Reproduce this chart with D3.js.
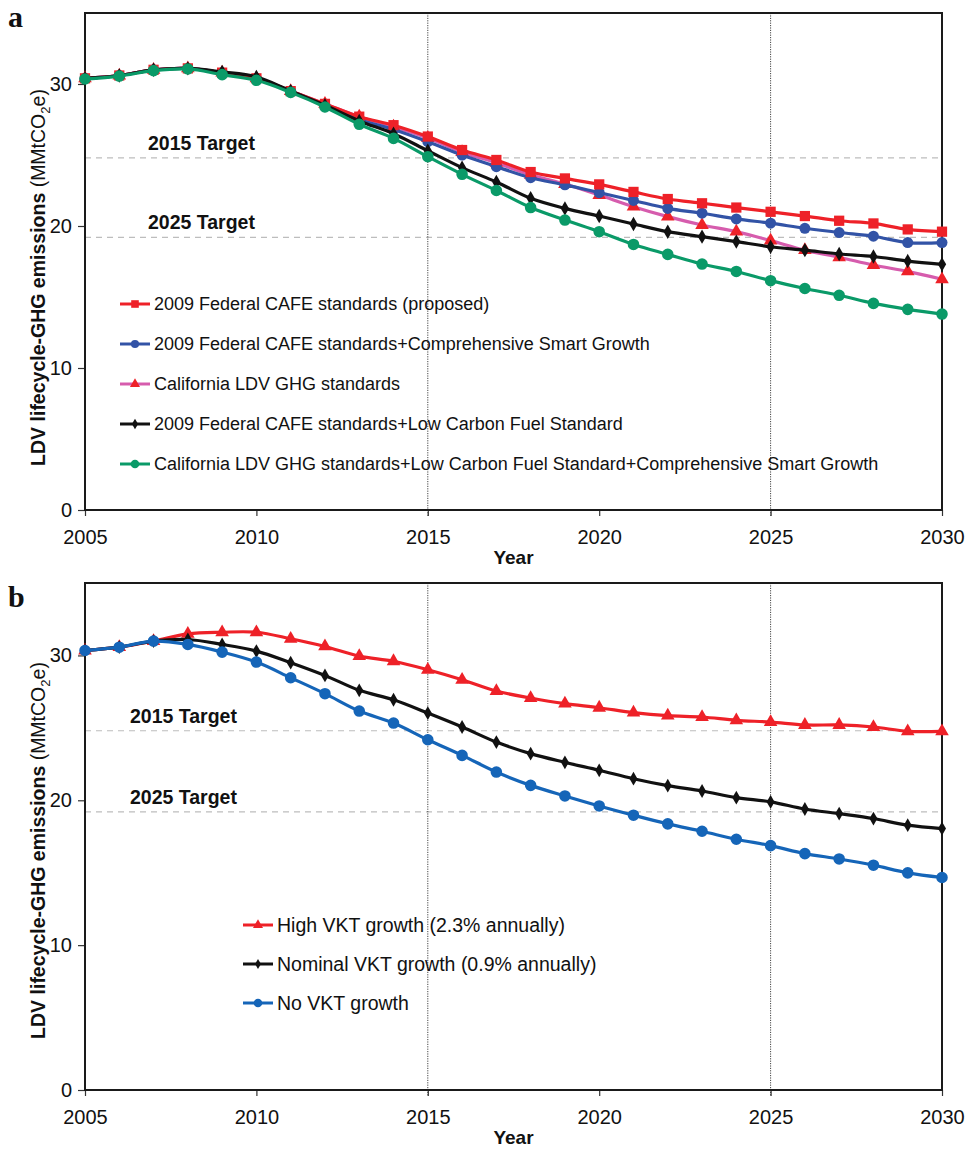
<!DOCTYPE html>
<html><head><meta charset="utf-8">
<script src="https://cdn.jsdelivr.net/npm/d3@7"></script>
<style>
html,body{margin:0;padding:0;background:#fff;}
svg{display:block;font-family:Arial,"Liberation Sans",sans-serif;}
</style></head>
<body><svg id="chart" width="965" height="1151"></svg>
<script>
const years = d3.range(2005, 2031);
const xTicks = [2005, 2010, 2015, 2020, 2025, 2030];
const yTicks = [0, 10, 20, 30];
const targetYears = [2015, 2025];
const targetLabels = ["2015 Target", "2025 Target"];
const targetValuesA = [24.8, 19.2];
const targetValuesB = [24.8, 19.2];

// Panel a series
const aNames = [
  "2009 Federal CAFE standards (proposed)",
  "2009 Federal CAFE standards+Comprehensive Smart Growth",
  "California LDV GHG standards",
  "2009 Federal CAFE standards+Low Carbon Fuel Standard",
  "California LDV GHG standards+Low Carbon Fuel Standard+Comprehensive Smart Growth"
];
const aRed   = [30.4,30.6,31.0,31.1,30.8,30.4,29.5,28.6,27.7,27.1,26.3,25.35,24.65,23.8,23.35,22.93,22.4,21.9,21.6,21.3,21.0,20.7,20.37,20.18,19.76,19.6];
const aBlue  = [30.4,30.6,31.0,31.1,30.8,30.4,29.5,28.5,27.5,26.8,25.94,25.0,24.18,23.4,22.9,22.35,21.8,21.24,20.9,20.5,20.2,19.84,19.54,19.28,18.83,18.83];
const aPink  = [30.4,30.6,31.0,31.1,30.8,30.4,29.5,28.6,27.7,27.0,26.2,25.2,24.45,23.6,22.96,22.18,21.36,20.66,20.07,19.6,18.97,18.3,17.8,17.25,16.8,16.25];
const aBlack = [30.4,30.6,31.0,31.1,30.85,30.5,29.5,28.5,27.4,26.5,25.3,24.11,23.1,21.95,21.24,20.7,20.14,19.6,19.25,18.9,18.54,18.3,18.03,17.85,17.53,17.3];
const aGreen = [30.35,30.56,30.94,31.06,30.66,30.26,29.41,28.38,27.16,26.17,24.88,23.64,22.5,21.3,20.42,19.6,18.7,18.0,17.32,16.8,16.15,15.6,15.12,14.55,14.13,13.8];

// Panel b series
const bNames = [
  "High VKT growth (2.3% annually)",
  "Nominal VKT growth (0.9% annually)",
  "No VKT growth"
];
const bRed   = [30.34,30.57,30.99,31.49,31.6,31.6,31.15,30.62,29.95,29.6,29.01,28.32,27.54,27.06,26.67,26.39,26.05,25.84,25.75,25.52,25.4,25.2,25.2,25.06,24.76,24.76];
const bBlack = [30.34,30.57,30.99,31.1,30.76,30.3,29.5,28.62,27.59,26.94,26.02,25.06,24.02,23.22,22.62,22.07,21.49,21.01,20.64,20.18,19.89,19.4,19.08,18.74,18.28,18.05];
const bBlue  = [30.34,30.57,30.99,30.76,30.23,29.54,28.46,27.36,26.16,25.33,24.18,23.1,21.95,21.03,20.3,19.61,18.97,18.37,17.86,17.31,16.87,16.32,15.95,15.52,14.99,14.67];

const svg = d3.select("#chart");

function panel(cfg){
  const g = svg.append("g");
  const x = d3.scaleLinear().domain([2005,2030]).range([85,942]);
  const y = d3.scaleLinear().domain([0,35]).range([cfg.bottom, cfg.top]);
  const plotTop = cfg.top, plotBottom = cfg.bottom;

  // target dashed lines
  cfg.targets.forEach((v,i)=>{
    g.append("line").attr("x1",x(2005)).attr("x2",x(2030)).attr("y1",y(v)).attr("y2",y(v))
      .attr("stroke","#bdbdbd").attr("stroke-width",1.2).attr("stroke-dasharray","6,5");
    g.append("text").attr("x",cfg.targetX).attr("y",y(v)-8).text(targetLabels[i])
      .attr("font-weight","bold").attr("font-size",19.5).attr("fill","#111");
  });
  // vertical dotted lines
  targetYears.forEach(t=>{
    g.append("line").attr("x1",x(t)).attr("x2",x(t)).attr("y1",plotTop).attr("y2",plotBottom+6)
      .attr("stroke","#444").attr("stroke-width",1).attr("stroke-dasharray","1.2,1.2");
  });

  // axes
  const yAxis = d3.axisLeft(y).tickValues(yTicks).tickSize(7).tickPadding(6).tickFormat(d3.format("d"));
  const ya = g.append("g").attr("transform",`translate(${x(2005)},0)`).call(yAxis);
  const xAxis = d3.axisBottom(x).tickValues(xTicks).tickSize(6).tickPadding(14).tickFormat(d3.format("d"));
  const xa = g.append("g").attr("transform",`translate(0,${plotBottom})`).call(xAxis);
  [ya,xa].forEach(a=>{
    a.select(".domain").remove();
    a.selectAll(".tick line").attr("stroke","#333").attr("stroke-width",1.2);
    a.selectAll(".tick text").attr("font-size",20).attr("fill","#111").attr("font-family","Arial, 'Liberation Sans', sans-serif");
  });
  // frame
  g.append("rect").attr("x",x(2005)).attr("y",plotTop).attr("width",x(2030)-x(2005)).attr("height",plotBottom-plotTop)
    .attr("fill","none").attr("stroke","#1a1a1a").attr("stroke-width",2);

  // series (drawn in z order)
  const line = d3.line().x((d,i)=>x(years[i])).y(d=>y(d)).curve(d3.curveCatmullRom.alpha(0.5));
  cfg.series.slice().sort((p,q)=>p.z-q.z).forEach(s=>{
    g.append("path").datum(s.values).attr("d",line).attr("fill","none")
      .attr("stroke",s.color).attr("stroke-width",3.2).attr("stroke-linejoin","round");
    const sym = d3.symbol().type(s.symbol).size(s.size);
    g.selectAll(null).data(s.values).enter().append("path")
      .attr("d",sym).attr("transform",(d,i)=>`translate(${x(years[i])},${y(d)})`)
      .attr("fill",s.mcolor);
  });

  // legend
  cfg.series.forEach((s,i)=>{
    const ly = cfg.legY + i*cfg.legStep;
    g.append("line").attr("x1",cfg.legX).attr("x2",cfg.legX+30).attr("y1",ly).attr("y2",ly)
      .attr("stroke",s.color).attr("stroke-width",3);
    g.append("path").attr("d",d3.symbol().type(s.symbol).size(s.size*0.55)())
      .attr("transform",`translate(${cfg.legX+15},${ly})`).attr("fill",s.mcolor);
    g.append("text").attr("x",cfg.legX+34).attr("y",ly).attr("dy","0.36em")
      .attr("font-size",cfg.legFont).attr("fill","#111").text(s.name);
  });

  // axis titles
  g.append("text").attr("x",x(2017.5)).attr("y",plotBottom+47).attr("dy","0.36em")
    .attr("text-anchor","middle").attr("font-weight","bold").attr("font-size",19).attr("fill","#111").text("Year");
  const cy = (plotTop+plotBottom)/2 + cfg.titleOff;
  const t = g.append("text").attr("transform",`translate(45,${cy}) rotate(-90)`)
    .attr("text-anchor","middle").attr("font-size",19.5).attr("fill","#111");
  t.append("tspan").attr("font-weight","bold").text("LDV lifecycle-GHG emissions");
  t.append("tspan").text(" (MMtCO");
  t.append("tspan").attr("font-size",13).attr("dy",5).text("2");
  t.append("tspan").attr("dy",-5).text("e)");

  // panel letter
  g.append("text").attr("x",8).attr("y",cfg.letterY).attr("font-family","'Liberation Serif','Times New Roman',serif")
    .attr("font-weight","bold").attr("font-size",30).attr("fill","#111").text(cfg.letter);
}

panel({
  top:13, bottom:510, letter:"a", letterY:27, titleOff:16,
  targets: targetValuesA, targetX:148,
  legX:120, legY:304, legStep:40, legFont:18,
  series:[
    {name:aNames[0], values:aRed, color:"#ee2128", mcolor:"#ee2128", symbol:d3.symbolSquare, size:105, z:2},
    {name:aNames[1], values:aBlue, color:"#3253a6", mcolor:"#3253a6", symbol:d3.symbolCircle, size:95, z:1},
    {name:aNames[2], values:aPink, color:"#d65cad", mcolor:"#ee2128", symbol:d3.symbolTriangle, size:80, z:0},
    {name:aNames[3], values:aBlack, color:"#111111", mcolor:"#111111", symbol:d3.symbolDiamond, size:60, z:3},
    {name:aNames[4], values:aGreen, color:"#0a9a68", mcolor:"#0a9a68", symbol:d3.symbolCircle, size:105, z:4}
  ]
});

panel({
  top:583, bottom:1090, letter:"b", letterY:607, titleOff:14,
  targets: targetValuesB, targetX:130,
  legX:243, legY:925, legStep:39, legFont:19.5,
  series:[
    {name:bNames[0], values:bRed, color:"#ee2128", mcolor:"#ee2128", symbol:d3.symbolTriangle, size:80, z:0},
    {name:bNames[1], values:bBlack, color:"#111111", mcolor:"#111111", symbol:d3.symbolDiamond, size:55, z:1},
    {name:bNames[2], values:bBlue, color:"#1565b8", mcolor:"#1565b8", symbol:d3.symbolCircle, size:105, z:2}
  ]
});
</script>
</body></html>
